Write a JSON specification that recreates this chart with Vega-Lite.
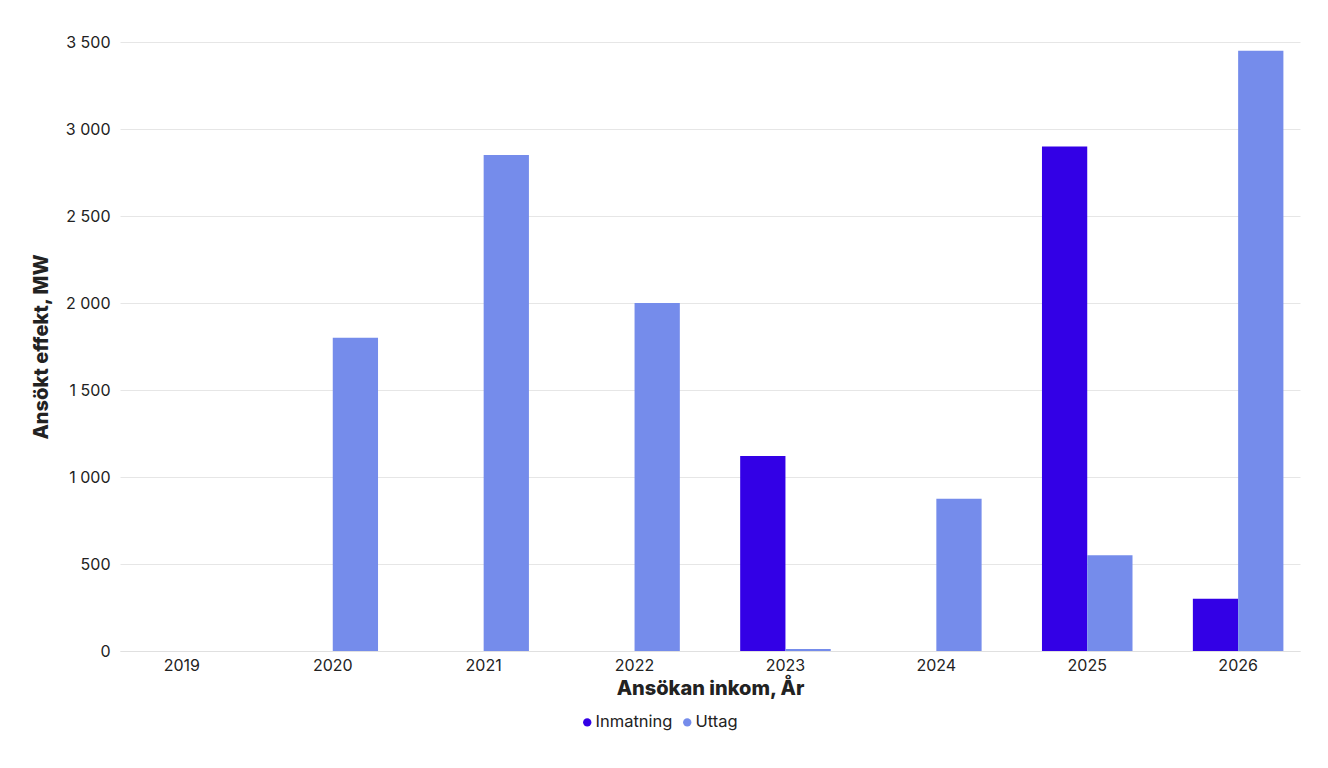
{
  "$schema": "https://vega.github.io/schema/vega-lite/v6.json",
  "autosize": "none",
  "padding": {"left": 120, "top": 42, "right": 28, "bottom": 117},
  "width": 1180,
  "height": 609,
  "data": {
    "values": [
      {"year": "2019", "serie": "Inmatning", "mw": 0},
      {"year": "2019", "serie": "Uttag", "mw": 0},
      {"year": "2020", "serie": "Inmatning", "mw": 0},
      {"year": "2020", "serie": "Uttag", "mw": 1800},
      {"year": "2021", "serie": "Inmatning", "mw": 0},
      {"year": "2021", "serie": "Uttag", "mw": 2850},
      {"year": "2022", "serie": "Inmatning", "mw": 0},
      {"year": "2022", "serie": "Uttag", "mw": 2000},
      {"year": "2023", "serie": "Inmatning", "mw": 1120},
      {"year": "2023", "serie": "Uttag", "mw": 12},
      {"year": "2024", "serie": "Inmatning", "mw": 0},
      {"year": "2024", "serie": "Uttag", "mw": 875},
      {"year": "2025", "serie": "Inmatning", "mw": 2900},
      {"year": "2025", "serie": "Uttag", "mw": 550},
      {"year": "2026", "serie": "Inmatning", "mw": 300},
      {"year": "2026", "serie": "Uttag", "mw": 3450}
    ]
  },
  "mark": {"type": "bar"},
  "encoding": {
    "x": {
      "field": "year",
      "type": "ordinal",
      "title": "Ansökan inkom, År",
      "scale": {"paddingInner": 0.4, "paddingOuter": 0.11},
      "axis": {
        "labelAngle": 0,
        "ticks": false,
        "domainColor": "#e0e0e0",
        "labelPadding": 6,
        "titlePadding": 5
      }
    },
    "xOffset": {"field": "serie", "type": "nominal", "scale": {"paddingInner": 0, "paddingOuter": 0}},
    "y": {
      "field": "mw",
      "type": "quantitative",
      "title": "Ansökt effekt, MW",
      "scale": {"domain": [0, 3500], "nice": false},
      "axis": {
        "values": [0, 500, 1000, 1500, 2000, 2500, 3000, 3500],
        "format": ",d",
        "domain": false,
        "ticks": false,
        "labelPadding": 10,
        "titlePadding": 14,
        "gridColor": "#e6e6e6"
      }
    },
    "color": {
      "field": "serie",
      "type": "nominal",
      "title": null,
      "scale": {"domain": ["Inmatning", "Uttag"], "range": ["#3300e6", "#758ceb"]},
      "legend": {
        "orient": "none",
        "legendX": 459,
        "legendY": 672,
        "direction": "horizontal",
        "symbolType": "circle",
        "symbolSize": 70,
        "labelFontSize": 16.5,
        "labelFont": "Inter",
        "labelColor": "#222222",
        "labelOffset": 0,
        "columnPadding": 6,
        "symbolStrokeWidth": 0
      }
    }
  },
  "config": {
    "locale": {
      "number": {"decimal": ",", "thousands": " ", "grouping": [3], "currency": ["", " kr"]}
    },
    "view": {"stroke": null},
    "axis": {
      "labelFont": "Inter",
      "labelFontSize": 16,
      "labelColor": "#222222",
      "titleFont": "Inter",
      "titleFontSize": 20,
      "titleFontWeight": 800,
      "titleColor": "#222222"
    }
  }
}
